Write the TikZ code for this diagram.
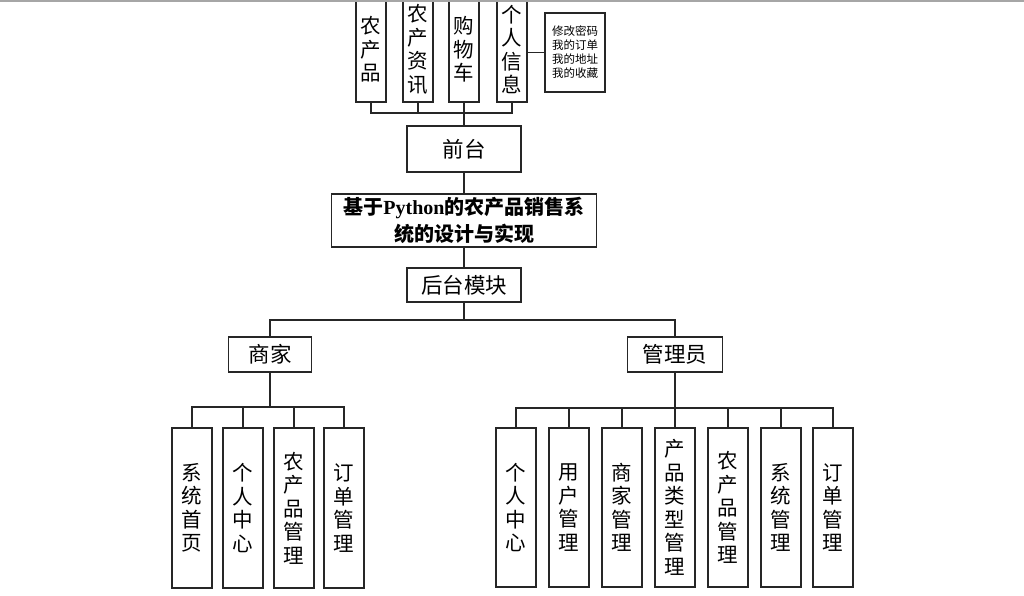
\documentclass[tikz,border=0pt]{standalone}
\usepackage{fontspec}
\setmainfont{Liberation Serif}
\newfontfamily\cjk{Noto Sans CJK SC}
\begin{document}
\begin{tikzpicture}[x=1pt,y=-1pt,
  box/.style={draw=black!85,line width=1.5pt,inner sep=0pt,align=center,rectangle},
  vtext/.style={font=\cjk\fontsize{20.5}{23.5}\selectfont},
  htext/.style={font=\cjk\fontsize{21.5}{26}\selectfont},
  conn/.style={draw=black!85,line width=1.5pt}]
\useasboundingbox (0,0) rectangle (1024,595);
\fill[white] (0,0) rectangle (1024,595);
% top boxes
\node[box,vtext,minimum width=30,minimum height=105] (t1) at (371,49.5) {农\\产\\品};
\node[box,vtext,minimum width=30,minimum height=105] (t2) at (418,49.5) {农\\产\\资\\讯};
\node[box,vtext,minimum width=30,minimum height=105] (t3) at (464,49.5) {购\\物\\车};
\node[box,vtext,minimum width=30,minimum height=105] (t4) at (512,49.5) {个\\人\\信\\息};
\node[box,font=\cjk\fontsize{11.5}{14}\selectfont,minimum width=60,minimum height=79] (side) at (575,52.5) {修改密码\\我的订单\\我的地址\\我的收藏};
\draw[gray!70,line width=1.2pt] (0,1) -- (1024,1);
% middle
\node[box,htext,minimum width=114,minimum height=46] (qt) at (464,149) {前台};
\node[box,font=\fontsize{20}{27}\selectfont\bfseries,minimum width=265,minimum height=53] (title) at (464,220.5) {{\cjk\bfseries 基于}Python{\cjk\bfseries 的农产品销售系}\\{\cjk\bfseries 统的设计与实现}};
\node[box,htext,minimum width=114,minimum height=34] (ht) at (464,285) {后台模块};
\node[box,htext,minimum width=83,minimum height=35] (sj) at (270,354.5) {商家};
\node[box,htext,minimum width=95,minimum height=35] (gly) at (675,354.5) {管理员};
% merchant children
\node[box,vtext,minimum width=40,minimum height=160] (s1) at (192,508) {系\\统\\首\\页};
\node[box,vtext,minimum width=40,minimum height=160] (s2) at (243,508) {个\\人\\中\\心};
\node[box,vtext,minimum width=40,minimum height=160] (s3) at (294,508) {农\\产\\品\\管\\理};
\node[box,vtext,minimum width=40,minimum height=160] (s4) at (344,508) {订\\单\\管\\理};
% admin children
\node[box,vtext,minimum width=40,minimum height=159] (a1) at (516,507.5) {个\\人\\中\\心};
\node[box,vtext,minimum width=40,minimum height=159] (a2) at (569,507.5) {用\\户\\管\\理};
\node[box,vtext,minimum width=40,minimum height=159] (a3) at (622,507.5) {商\\家\\管\\理};
\node[box,vtext,minimum width=40,minimum height=159] (a4) at (675,507.5) {产\\品\\类\\型\\管\\理};
\node[box,vtext,minimum width=40,minimum height=159] (a5) at (728,507.5) {农\\产\\品\\管\\理};
\node[box,vtext,minimum width=40,minimum height=159] (a6) at (781,507.5) {系\\统\\管\\理};
\node[box,vtext,minimum width=40,minimum height=159] (a7) at (833,507.5) {订\\单\\管\\理};
% bus coordinates
\coordinate (b1) at (464,113);
\coordinate (b2) at (464,320);
\coordinate (b3) at (270,407);
\coordinate (b4) at (675,408);
% top connectors
\draw[conn] (t1.south) |- (b1) -| (t4.south);
\draw[conn] (t2.south) -- (t2.south |- b1);
\draw[conn] (t3.south) -- (t3.south |- b1);
\draw[conn] (b1) -- (qt.north);
\draw[conn] (t4.east |- side.west) -- (side.west);
% spine
\draw[conn] (qt.south) -- (title.north);
\draw[conn] (title.south) -- (ht.north);
\draw[conn] (ht.south) -- (b2);
\draw[conn] (sj.north) |- (b2) -| (gly.north);
% merchant
\draw[conn] (sj.south) -- (b3);
\draw[conn] (s1.north) |- (b3) -| (s4.north);
\draw[conn] (s2.north) -- (s2.north |- b3);
\draw[conn] (s3.north) -- (s3.north |- b3);
% admin
\draw[conn] (gly.south) -- (b4);
\draw[conn] (a1.north) |- (b4) -| (a7.north);
\foreach \n in {a2,a3,a4,a5,a6} \draw[conn] (\n.north) -- (\n.north |- b4);
\end{tikzpicture}
\end{document}
